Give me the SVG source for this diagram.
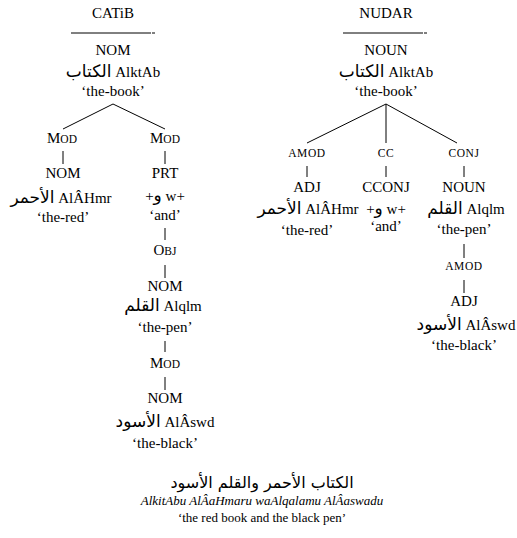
<svg xmlns="http://www.w3.org/2000/svg" width="517" height="538" viewBox="0 0 517 538" font-family="Liberation Serif, Times New Roman, serif">
<style>
text{font-family:'Liberation Serif','Times New Roman',serif;font-size:15px;fill:#000;text-anchor:middle}
.ar{font-family:'DejaVu Sans',sans-serif;font-size:17px}
.sc{font-size:11.5px}
.rel{font-size:11.5px;letter-spacing:0.6px}
.it{font-style:italic;font-size:13px}
.sm{font-size:13px}
.big{font-family:'DejaVu Sans',sans-serif;font-size:16px}
line{stroke:#000;stroke-width:1}
</style>
<rect width="517" height="538" fill="#fff"/>
<g id="titles">
<text x="113" y="18">CATiB</text>
<line x1="71" y1="33" x2="151" y2="33"/><line x1="152" y1="33" x2="155" y2="33" stroke-width="1.4"/>
<text x="386" y="18">NUDAR</text>
<line x1="343" y1="33" x2="423" y2="33"/><line x1="424" y1="33" x2="427" y2="33" stroke-width="1.4"/>
</g>
<g id="connectors">
<line x1="113" y1="104" x2="63" y2="129"/>
<line x1="113" y1="104" x2="165" y2="129"/>
<line x1="63" y1="151" x2="63" y2="164"/>
<line x1="165" y1="151" x2="165" y2="164"/>
<line x1="165" y1="228" x2="165" y2="240"/>
<line x1="165" y1="265" x2="165" y2="278"/>
<line x1="165" y1="341" x2="165" y2="352"/>
<line x1="165" y1="377" x2="165" y2="390"/>
<line x1="386" y1="104" x2="307" y2="143"/>
<line x1="386" y1="104" x2="386" y2="143"/>
<line x1="386" y1="104" x2="457" y2="143"/>
<line x1="307" y1="166" x2="307" y2="177"/>
<line x1="386" y1="166" x2="386" y2="177"/>
<line x1="464" y1="166" x2="464" y2="177"/>
<line x1="464" y1="244" x2="464" y2="258"/>
<line x1="464" y1="280" x2="464" y2="293"/>
</g>
<!-- CATiB tree -->
<g id="c-root">
<text x="113" y="55">NOM</text>
<text x="113" y="77"><tspan class="ar">الكتاب</tspan> AlktAb</text>
<text x="113" y="96">‘the-book’</text>
</g>
<g id="c-rel-mod1"><text x="62" y="143">M<tspan class="sc">OD</tspan></text></g>
<g id="c-rel-mod2"><text x="165" y="143">M<tspan class="sc">OD</tspan></text></g>
<g id="c-red">
<text x="63" y="178">NOM</text>
<text x="61" y="203"><tspan class="ar">الأحمر</tspan> AlÂHmr</text>
<text x="63" y="222">‘the-red’</text>
</g>
<g id="c-and">
<text x="165" y="178">PRT</text>
<text x="165" y="201">+<tspan class="ar">و</tspan> w+</text>
<text x="165" y="220">‘and’</text>
</g>
<g id="c-rel-obj"><text x="165" y="255">O<tspan class="sc">BJ</tspan></text></g>
<g id="c-pen">
<text x="165" y="291">NOM</text>
<text x="163" y="311"><tspan class="ar">القلم</tspan> Alqlm</text>
<text x="165" y="332">‘the-pen’</text>
</g>
<g id="c-rel-mod3"><text x="165" y="368">M<tspan class="sc">OD</tspan></text></g>
<g id="c-black">
<text x="165" y="403">NOM</text>
<text x="165" y="427"><tspan class="ar">الأسود</tspan> AlÂswd</text>
<text x="165" y="448">‘the-black’</text>
</g>
<!-- NUDAR tree -->
<g id="n-root">
<text x="386" y="55">NOUN</text>
<text x="386" y="77"><tspan class="ar">الكتاب</tspan> AlktAb</text>
<text x="386" y="96">‘the-book’</text>
</g>
<g id="n-rel-amod1"><text class="rel" x="307" y="157">AMOD</text></g>
<g id="n-rel-cc"><text class="rel" x="386" y="157">CC</text></g>
<g id="n-rel-conj"><text class="rel" x="464" y="157">CONJ</text></g>
<g id="n-red">
<text x="307" y="192">ADJ</text>
<text x="308" y="214"><tspan class="ar">الأحمر</tspan> AlÂHmr</text>
<text x="307" y="235">‘the-red’</text>
</g>
<g id="n-and">
<text x="386" y="192">CCONJ</text>
<text x="386" y="214">+<tspan class="ar">و</tspan> w+</text>
<text x="386" y="231">‘and’</text>
</g>
<g id="n-pen">
<text x="464" y="192">NOUN</text>
<text x="466" y="214"><tspan class="ar">القلم</tspan> Alqlm</text>
<text x="464" y="234">‘the-pen’</text>
</g>
<g id="n-rel-amod2"><text class="rel" x="464" y="270">AMOD</text></g>
<g id="n-black">
<text x="464" y="306">ADJ</text>
<text x="466" y="330"><tspan class="ar">الأسود</tspan> AlÂswd</text>
<text x="464" y="350">‘the-black’</text>
</g>
<g id="sentence">
<text class="big" x="262" y="488" direction="rtl">الكتاب الأحمر والقلم الأسود</text>
<text class="it" x="262" y="505">AlkitAbu AlÂaHmaru waAlqalamu AlÂaswadu</text>
<text class="sm" x="262" y="522">‘the red book and the black pen’</text>
</g>
</svg>
